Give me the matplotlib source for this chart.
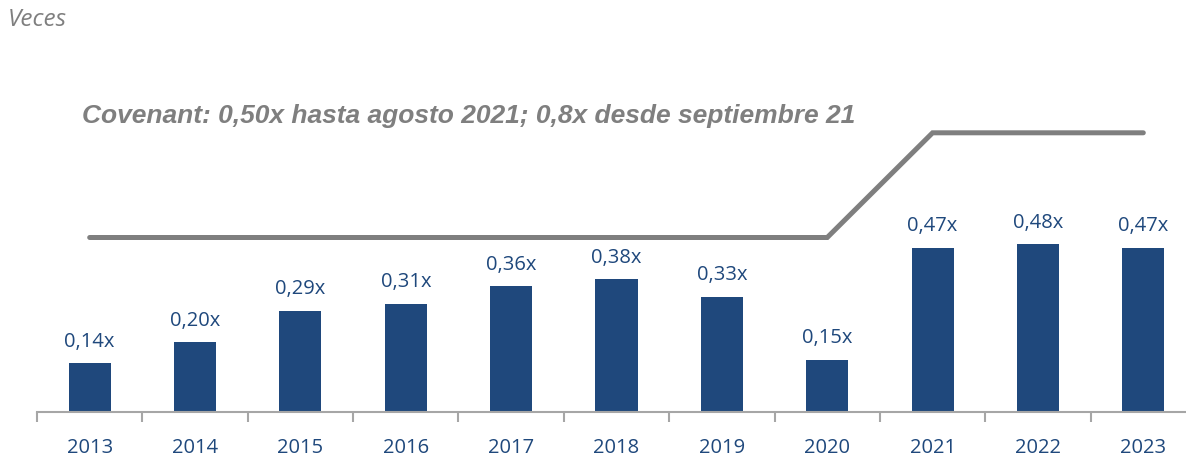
import matplotlib.pyplot as plt
import numpy as np

years = ['2013', '2014', '2015', '2016', '2017', '2018', '2019', '2020', '2021', '2022', '2023']
ratio = [0.14, 0.20, 0.29, 0.31, 0.36, 0.38, 0.33, 0.15, 0.47, 0.48, 0.47]
covenant = [0.50, 0.50, 0.50, 0.50, 0.50, 0.50, 0.50, 0.50, 0.80, 0.80, 0.80]
labels = ['0,14x', '0,20x', '0,29x', '0,31x', '0,36x', '0,38x', '0,33x', '0,15x', '0,47x', '0,48x', '0,47x']

azul = '#1f487c'
gris = '#7f7f7f'

fig = plt.figure(figsize=[11.86, 4.56], dpi=100)
# axes run past the right edge, like in the original
ax = fig.add_axes([37/1186, 43/456, 1159/1186, 349/456])
x = np.arange(len(years))

ax.bar(x, ratio, width=0.4, color=azul, zorder=2)
ax.plot(x, covenant, color=gris, lw=3.6, solid_capstyle='round', solid_joinstyle='miter', zorder=3)

for i, v in enumerate(ratio):
    ax.annotate(labels[i], (x[i], v), xytext=(0, 9), textcoords='offset points',
                ha='center', va='bottom', fontsize=14.5, color=azul, family='Open Sans')

ax.set_xlim(-0.5, len(years) - 0.5)
ax.set_ylim(0, 1.0)
ax.set_yticks([])
ax.set_xticks(x)
ax.set_xticklabels(years, fontsize=14.5, color=azul, family='Open Sans')
ax.set_xticks(np.arange(-0.5, len(years)), minor=True)
ax.tick_params(axis='x', which='major', length=0, pad=18)
ax.tick_params(axis='x', which='minor', length=7, width=1.5, color='#a6a6a6', direction='out')
for s in ['top', 'right', 'left']:
    ax.spines[s].set_visible(False)
ax.spines['bottom'].set_color('#a6a6a6')
ax.spines['bottom'].set_linewidth(1.5)
ax.patch.set_alpha(0)

fig.text(82/1186, 1 - 116/456, 'Covenant: 0,50x hasta agosto 2021; 0,8x desde septiembre 21',
         fontsize=19, fontweight='bold', style='italic', color=gris, family='Liberation Sans',
         va='center', ha='left')
fig.text(8/1186, 1 - 20/456, 'Veces', fontsize=17.5, style='italic', color=gris,
         family='Open Sans', va='center', ha='left')

plt.savefig('out.png', dpi=100)
